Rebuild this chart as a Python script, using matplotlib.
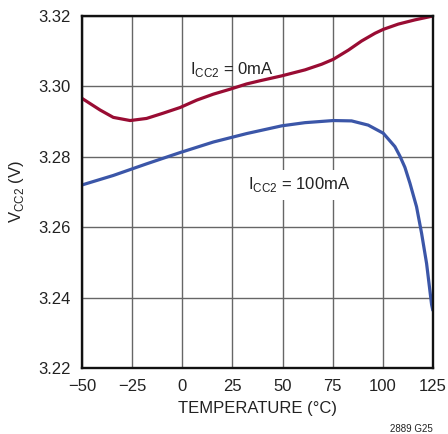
import matplotlib
matplotlib.use("Agg")
import matplotlib.pyplot as plt

plt.rcParams['font.family'] = ['Liberation Sans', 'DejaVu Sans']
plt.rcParams['mathtext.fontset'] = 'custom'
plt.rcParams['mathtext.rm'] = 'Liberation Sans'

# I_CC2 = 0mA
t_0ma = [-50, -41, -34.4, -26, -17.8, -9.5, -1.1, 7.2, 15.5, 23.8, 32.1, 38.7, 49.6, 61.2,
         69.5, 75.3, 82.8, 89.4, 96.1, 100.2, 107.7, 116, 125]
v_0ma = [3.2966, 3.2933, 3.2912, 3.2903, 3.2909, 3.2924, 3.2940, 3.2961, 3.2978, 3.2992,
         3.3007, 3.3016, 3.3030, 3.3047, 3.3063, 3.3077, 3.3103, 3.3129, 3.3151, 3.3162,
         3.3177, 3.3189, 3.3200]

# I_CC2 = 100mA
t_100ma = [-50, -34.4, -17.8, -1.1, 15.5, 32.1, 49.6, 61.2, 75.3, 84.4, 92.7, 100.2, 106,
           108.5, 111, 113.5, 116.8, 119.3, 121.8, 124.3, 125]
v_100ma = [3.2720, 3.2747, 3.2780, 3.2812, 3.2842, 3.2866, 3.2888, 3.2897, 3.2903, 3.2902,
           3.2890, 3.2867, 3.2829, 3.2802, 3.2770, 3.2725, 3.2658, 3.2583, 3.2497, 3.2380,
           3.2362]

xticks = [-50, -25, 0, 25, 50, 75, 100, 125]
yticks = [3.22, 3.24, 3.26, 3.28, 3.30, 3.32]

fig = plt.figure(figsize=(4.48, 4.34), dpi=100)
ax = fig.add_axes([82/448, 1-368/434, 351/448, 352/434])

ax.plot(t_0ma, v_0ma, color='#990c33', linewidth=2.3, solid_capstyle='butt', solid_joinstyle='round')
ax.plot(t_100ma, v_100ma, color='#3b56a8', linewidth=2.3, solid_capstyle='butt', solid_joinstyle='round')

ax.set_xlim(-50, 125)
ax.set_ylim(3.22, 3.32)
ax.set_xticks(xticks)
ax.set_xticklabels(['\u221250', '\u221225', '0', '25', '50', '75', '100', '125'])
ax.set_yticks(yticks)
ax.set_yticklabels(['%.2f' % y for y in yticks])
ax.tick_params(length=0, labelsize=12, colors='#222222')
ax.tick_params(axis='y', pad=8)
ax.tick_params(axis='x', pad=8)
ax.grid(True, color='#666666', linewidth=1.0)
ax.set_axisbelow(True)
for s in ax.spines.values():
    s.set_linewidth(1.7)
    s.set_color('#111111')

ax.set_xlabel('TEMPERATURE (\u00b0C)', fontsize=12, color='#222222', labelpad=5)
ax.set_ylabel('V$_{\\mathregular{CC2}}$ (V)', fontsize=12, color='#222222', labelpad=9)

ax.text(3.8, 3.3047, 'I$_{\\mathregular{CC2}}$ = 0mA', fontsize=12, color='#222222', va='center')
ax.text(32.8, 3.2720, 'I$_{\\mathregular{CC2}}$ = 100mA', fontsize=12, color='#222222', va='center',
        bbox=dict(facecolor='white', edgecolor='none', pad=4))

fig.text(433/448, 1-429/434, '2889 G25', fontsize=7, ha='right', va='center', color='#222222')

fig.savefig('out.png', dpi=100)
